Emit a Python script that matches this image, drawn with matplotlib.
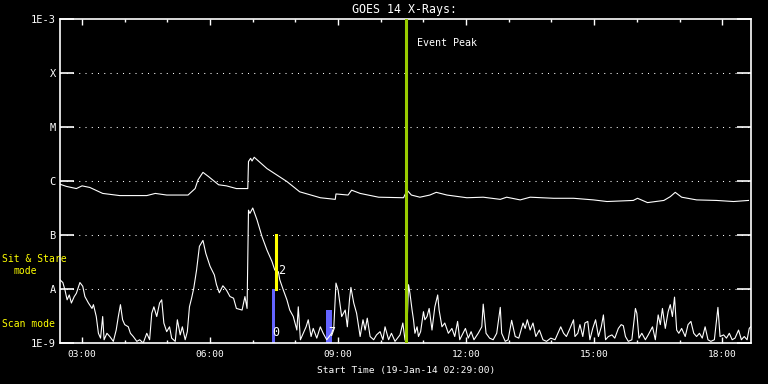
import numpy as np
import matplotlib
matplotlib.use('Agg')
import matplotlib.pyplot as plt
from matplotlib.ticker import FixedLocator, NullLocator

plt.rcParams['font.family'] = ['DejaVu Sans Mono', 'DejaVu Sans']

# time axis: minutes after the start time 02:29
start_label = 'Start Time (19-Jan-14 02:29:00)'
x_end = 971.5

# long channel (upper curve), log10 of flux
long_t = [0, 9, 23, 31, 42, 60, 84, 122, 134, 150,
          180, 190, 194, 201, 209, 223, 234, 248, 264, 265,
          268, 270, 273, 291, 319, 337, 366, 387, 388, 405,
          410, 422, 448, 483, 488, 494, 506, 520, 529, 544,
          572, 595, 619, 628, 647, 661, 694, 722, 750, 769,
          806, 812, 826, 849, 858, 865, 874, 895, 923, 947,
          968]
long_log = [-6.06, -6.10, -6.14, -6.09, -6.12, -6.23, -6.27, -6.27, -6.23, -6.26,
            -6.26, -6.14, -5.98, -5.84, -5.92, -6.07, -6.09, -6.14, -6.14, -5.64,
            -5.58, -5.63, -5.56, -5.77, -6.01, -6.20, -6.31, -6.34, -6.24, -6.26,
            -6.17, -6.23, -6.30, -6.31, -6.17, -6.26, -6.30, -6.26, -6.21, -6.26,
            -6.31, -6.30, -6.34, -6.30, -6.35, -6.30, -6.32, -6.32, -6.35, -6.38,
            -6.36, -6.32, -6.40, -6.36, -6.29, -6.21, -6.30, -6.35, -6.36, -6.38,
            -6.36]

# short channel (lower curve), log10 of flux
short_t = [0, 4, 7, 10, 13, 16, 20, 23, 28, 32, 35, 40, 45, 47, 51, 54, 57, 60, 62, 66,
           70, 75, 79, 82, 85, 88, 91, 96, 99, 103, 108, 112, 117, 122, 126, 129, 132, 136, 140, 143,
           146, 150, 154, 157, 162, 165, 169, 172, 176, 179, 182, 185, 188, 192, 196, 201, 205, 211, 217, 220,
           224, 229, 234,
           239, 244, 248, 256, 260, 263, 265, 267, 271, 277, 284, 291, 298, 302, 307, 309, 314, 319, 323, 328,
           333, 335, 338, 342, 346, 349, 353, 356, 361, 366, 370, 375, 382, 385, 388, 391, 396, 401, 404, 407,
           409, 413, 417, 422, 426, 429, 432, 436, 441, 445, 450, 454, 457, 462, 466, 471,
           478, 482, 485, 487, 490, 492, 495, 497, 499, 502, 504, 507, 511, 513, 516, 519, 523, 527, 531, 533,
           537, 541, 546, 551, 555, 559, 562, 570, 574, 578, 582, 588, 593, 595, 599, 604, 609, 614, 619, 621,
           626, 630, 635, 640, 645, 651, 654, 657, 661, 665, 669, 674, 679, 684, 690, 696, 704, 708, 712, 717,
           722,
           724, 728, 731, 735, 738, 742, 745, 749, 753, 757, 761, 764, 767, 771, 776, 780, 785, 789, 792, 795,
           799, 804, 809, 811, 814, 818, 823, 827, 833, 837, 841, 844, 847, 851, 855, 858, 861, 864, 867, 870,
           874, 879, 883, 887, 891, 895, 899, 903, 907, 911, 915, 920, 925, 928, 933, 937, 941, 945, 949, 954,
           958, 962, 966, 969, 971]
short_log = [-7.83, -7.88, -8.02, -8.20, -8.11, -8.26, -8.14, -8.08, -7.88, -7.95, -8.14, -8.26, -8.36, -8.29, -8.51, -8.82, -8.91, -8.51, -8.94, -8.82,
             -8.88, -8.97, -8.76, -8.51, -8.29, -8.57, -8.66, -8.70, -8.82, -8.88, -8.97, -8.94, -9.00, -8.82, -8.94, -8.45, -8.33, -8.51, -8.26, -8.20,
             -8.63, -8.79, -8.70, -8.91, -8.97, -8.57, -8.85, -8.70, -8.94, -8.79, -8.33, -8.17, -7.99, -7.65, -7.21, -7.10, -7.34, -7.58, -7.74, -7.92,
             -8.07, -7.94, -8.02,
             -8.14, -8.17, -8.36, -8.39, -8.14, -8.36, -6.54, -6.60, -6.50, -6.72, -7.03, -7.28, -7.49, -7.65, -7.68, -7.83, -8.02, -8.20, -8.39, -8.51,
             -8.76, -8.33, -8.94, -8.82, -8.70, -8.57, -8.88, -8.73, -8.91, -8.70, -8.82, -8.94, -8.82, -8.70, -7.89, -8.02, -8.51, -8.39, -8.70, -8.20,
             -7.97, -8.26, -8.45, -8.88, -8.57, -8.76, -8.54, -8.88, -8.94, -8.85, -8.79, -8.94, -8.70, -8.94, -8.82, -8.97,
             -8.85, -8.63, -8.94, -9.00, -7.92, -8.08, -8.39, -8.57, -8.82, -8.70, -8.88, -8.79, -8.42, -8.57, -8.51, -8.36, -8.76, -8.33, -8.11, -8.39,
             -8.70, -8.63, -8.82, -8.73, -8.88, -8.60, -8.94, -8.73, -8.91, -8.79, -8.94, -8.82, -8.70, -8.28, -8.82, -8.91, -8.94, -8.82, -8.34, -8.82,
             -8.97, -8.94, -8.58, -8.88, -8.91, -8.63, -8.73, -8.57, -8.76, -8.63, -8.88, -8.76, -8.94, -8.97, -8.91, -8.94, -8.70, -8.82, -8.88, -8.73,
             -8.57,
             -8.88, -8.82, -8.66, -8.88, -8.63, -8.60, -8.94, -8.73, -8.57, -8.88, -8.70, -8.48, -8.94, -8.88, -8.85, -8.91, -8.73, -8.66, -8.68, -8.88,
             -8.97, -8.94, -8.36, -8.45, -8.91, -8.82, -8.94, -8.85, -8.70, -8.94, -8.48, -8.66, -8.36, -8.73, -8.42, -8.29, -8.51, -8.15, -8.76, -8.82,
             -8.73, -8.88, -8.66, -8.60, -8.82, -8.88, -8.82, -8.91, -8.70, -8.94, -8.97, -8.94, -8.34, -8.88, -8.85, -8.91, -8.82, -8.94, -8.91, -8.76,
             -8.94, -8.88, -8.94, -8.73, -8.70]

# flare classes
class_vals = [1e-9, 1e-8, 1e-7, 1e-6, 1e-5, 1e-4, 1e-3]
class_labels = ['1E-9', 'A', 'B', 'C', 'M', 'X', '1E-3']

# clock ticks
tick_t = [31, 211, 391, 571, 751, 931]
tick_labels = ['03:00', '06:00', '09:00', '12:00', '15:00', '18:00']
minor_t = [91, 151, 271, 331, 451, 511, 631, 691, 811, 871]

# events
peak_t = 487
stare_t = 303
stare_range = [1e-8, 1e-7]
scan_t = [300, 378]
scan_top = [1e-8, 10 ** -8.39]
scan_w = [5, 8]
scan_ids = ['0', '7']
scan_id_log = [-8.80, -8.81]
stare_id = '2'

fig = plt.figure(figsize=(7.68, 3.84), dpi=100, facecolor='black')
ax = fig.add_axes([60 / 768, 1 - 343 / 384, 691 / 768, 324 / 384])
ax.set_facecolor('black')
ax.set_yscale('log')
ax.set_ylim(1e-9, 1e-3)
ax.set_xlim(0, x_end)

for s in ax.spines.values():
    s.set_color('white')
    s.set_linewidth(1.2)

# dotted class lines
for v in class_vals[1:-1]:
    ax.axhline(v, color='white', lw=0.75, ls=(0, (1, 5)), zorder=1)

# scan mode bars
ax.bar(scan_t, np.array(scan_top) - 1e-9, bottom=1e-9, width=scan_w,
       color='#6464ff', zorder=2)

ax.plot(long_t, 10 ** np.array(long_log), color='white', lw=0.8, zorder=3)
ax.plot(short_t, 10 ** np.array(short_log), color='white', lw=0.8, zorder=3)

ax.axvline(peak_t, color='#99cc00', lw=2.2, zorder=4)
ax.plot([stare_t, stare_t], stare_range, color='yellow', lw=2.2, zorder=4)

for t, lab, lg in zip(scan_t, scan_ids, scan_id_log):
    ax.text(t + 4, 10 ** lg, lab, color='white', fontsize=8.5, ha='center', va='center', zorder=5)
ax.text(stare_t + 8, 10 ** -7.65, stare_id, color='white', fontsize=8.5, ha='center', va='center', zorder=5)
ax.text(peak_t + 15, 10 ** -3.44, 'Event Peak', color='white', fontsize=7.2, ha='left', va='center')

# axes ticks
ax.yaxis.set_major_locator(FixedLocator(class_vals))
ax.yaxis.set_minor_locator(NullLocator())
ax.set_yticklabels(class_labels)
ax.xaxis.set_major_locator(FixedLocator(tick_t))
ax.xaxis.set_minor_locator(FixedLocator(minor_t))
ax.set_xticklabels(tick_labels)
ax.tick_params(axis='y', which='major', direction='in', length=10, width=1.2,
               colors='white', labelsize=7.5, left=True, right=True, pad=3)
ax.tick_params(axis='x', which='major', direction='in', length=4.5, width=1,
               colors='white', labelsize=6.8, top=True, bottom=True, pad=5)
ax.tick_params(axis='x', which='minor', direction='in', length=2.2, width=1,
               colors='white', top=True, bottom=True)

fig.text(405 / 768, 1 - 9 / 384, 'GOES 14 X-Rays:', color='white', fontsize=8.4,
         ha='center', va='center')
fig.text(406 / 768, 1 - 370 / 384, start_label, color='white', fontsize=6.8,
         ha='center', va='center')

fig.text(2 / 768, 1 - 259 / 384, 'Sit & Stare', color='yellow', fontsize=7, ha='left', va='center')
fig.text(13 / 768, 1 - 271 / 384, 'mode', color='yellow', fontsize=7, ha='left', va='center')
fig.text(2 / 768, 1 - 324 / 384, 'Scan mode', color='yellow', fontsize=7, ha='left', va='center')

fig.savefig('out.png', dpi=100, facecolor='black')
